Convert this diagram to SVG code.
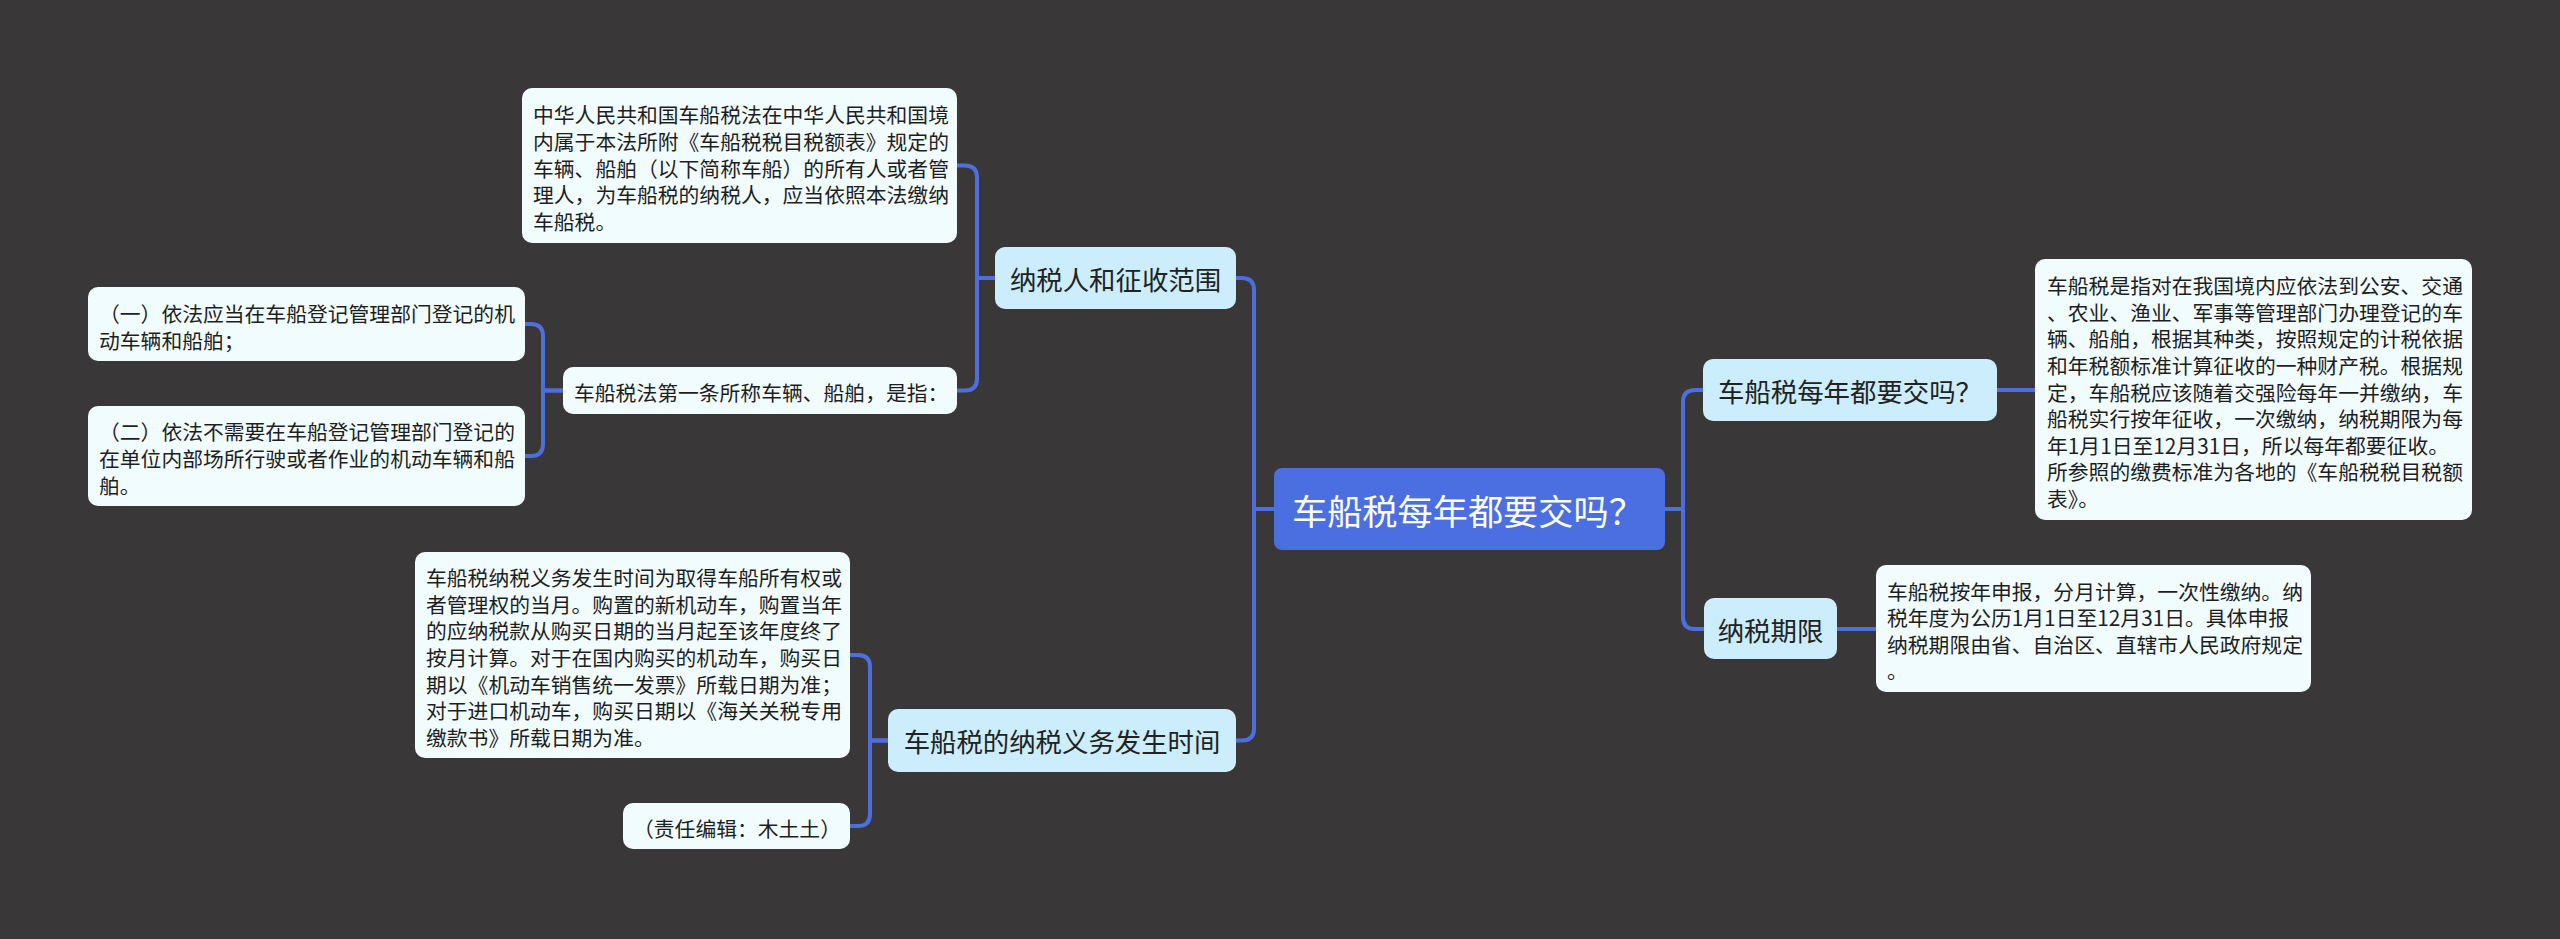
<svg xmlns="http://www.w3.org/2000/svg" width="2560" height="939" viewBox="0 0 2560 939">
<style>
.bg{fill:#393738}
.conn{fill:none;stroke:#4d6fdd;stroke-width:4;stroke-linecap:round;stroke-linejoin:round}
.root{fill:#4b6fe0}
.l1{fill:#ccedfb}
.leaf{fill:#f1fcfe}
text{font-family:"Noto Sans CJK SC","Noto Sans",sans-serif;dominant-baseline:central}
.tr{font-size:35.2px;fill:#ffffff}
.t1{font-size:26.4px;fill:#222222;text-anchor:middle}
.t2{font-size:20.8px;fill:#1e1e1e}
</style>
<rect class="bg" x="0" y="0" width="2560" height="939"/>
<g id="connectors">
<path class="conn" d="M1274,509 H1254 V290 Q1254,278 1242,278 H1236"/>
<path class="conn" d="M1274,509 H1254 V728.5 Q1254,740.5 1242,740.5 H1236"/>
<path class="conn" d="M1665,509 H1683 V402 Q1683,390 1695,390 H1703"/>
<path class="conn" d="M1665,509 H1683 V617 Q1683,629 1695,629 H1704"/>
<path class="conn" d="M1997,390 H2035"/>
<path class="conn" d="M1837,629 H1876"/>
<path class="conn" d="M995,278 H977 V177.5 Q977,165.5 965,165.5 H957"/>
<path class="conn" d="M995,278 H977 V378.5 Q977,390.5 965,390.5 H957"/>
<path class="conn" d="M563,390.5 H543 V336 Q543,324 531,324 H525"/>
<path class="conn" d="M563,390.5 H543 V444 Q543,456 531,456 H525"/>
<path class="conn" d="M888,740.5 H870 V667 Q870,655 858,655 H850"/>
<path class="conn" d="M888,740.5 H870 V814 Q870,826 858,826 H850"/>
</g>
<g id="root">
<rect class="root" x="1274" y="468" width="391" height="82" rx="8"/>
<text class="tr" x="1292" y="509">车船税每年都要交吗？</text>
</g>
<g id="n-scope">
<rect class="l1" x="995" y="247" width="241" height="62" rx="10"/>
<text class="t1" x="1115.5" y="278">纳税人和征收范围</text>
</g>
<g id="n-time">
<rect class="l1" x="888" y="709" width="348" height="63" rx="10"/>
<text class="t1" x="1062" y="740.5">车船税的纳税义务发生时间</text>
</g>
<g id="n-yearly">
<rect class="l1" x="1703" y="359" width="294" height="62" rx="10"/>
<text class="t1" x="1850" y="390">车船税每年都要交吗？</text>
</g>
<g id="n-period">
<rect class="l1" x="1704" y="598" width="133" height="61" rx="10"/>
<text class="t1" x="1770.5" y="629">纳税期限</text>
</g>
<g id="n-law">
<rect class="leaf" x="522" y="88" width="435" height="155" rx="10"/>
<text class="t2" x="533" y="114.3">中华人民共和国车船税法在中华人民共和国境</text>
<text class="t2" x="533" y="140.9">内属于本法所附《车船税税目税额表》规定的</text>
<text class="t2" x="533" y="167.5">车辆、船舶（以下简称车船）的所有人或者管</text>
<text class="t2" x="533" y="194.1">理人，为车船税的纳税人，应当依照本法缴纳</text>
<text class="t2" x="533" y="220.7">车船税。</text>
</g>
<g id="n-article">
<rect class="leaf" x="563" y="367" width="394" height="47" rx="10"/>
<text class="t2" x="574" y="392">车船税法第一条所称车辆、船舶，是指：</text>
</g>
<g id="n-item1">
<rect class="leaf" x="88" y="287" width="437" height="74" rx="10"/>
<text class="t2" x="99" y="313.3">（一）依法应当在车船登记管理部门登记的机</text>
<text class="t2" x="99" y="339.9">动车辆和船舶；</text>
</g>
<g id="n-item2">
<rect class="leaf" x="88" y="406" width="437" height="100" rx="10"/>
<text class="t2" x="99" y="431.4">（二）依法不需要在车船登记管理部门登记的</text>
<text class="t2" x="99" y="458">在单位内部场所行驶或者作业的机动车辆和船</text>
<text class="t2" x="99" y="484.6">舶。</text>
</g>
<g id="n-occur">
<rect class="leaf" x="415" y="552" width="435" height="206" rx="10"/>
<text class="t2" x="426" y="577.2">车船税纳税义务发生时间为取得车船所有权或</text>
<text class="t2" x="426" y="603.8">者管理权的当月。购置的新机动车，购置当年</text>
<text class="t2" x="426" y="630.4">的应纳税款从购买日期的当月起至该年度终了</text>
<text class="t2" x="426" y="657">按月计算。对于在国内购买的机动车，购买日</text>
<text class="t2" x="426" y="683.6">期以《机动车销售统一发票》所载日期为准；</text>
<text class="t2" x="426" y="710.2">对于进口机动车，购买日期以《海关关税专用</text>
<text class="t2" x="426" y="736.8">缴款书》所载日期为准。</text>
</g>
<g id="n-editor">
<rect class="leaf" x="623" y="803" width="227" height="46" rx="10"/>
<text class="t2" x="633" y="828">（责任编辑：木土土）</text>
</g>
<g id="n-define">
<rect class="leaf" x="2035" y="259" width="437" height="261" rx="10"/>
<text class="t2" x="2047" y="285.1">车船税是指对在我国境内应依法到公安、交通</text>
<text class="t2" x="2047" y="311.7">、农业、渔业、军事等管理部门办理登记的车</text>
<text class="t2" x="2047" y="338.3">辆、船舶，根据其种类，按照规定的计税依据</text>
<text class="t2" x="2047" y="364.9">和年税额标准计算征收的一种财产税。根据规</text>
<text class="t2" x="2047" y="391.5">定，车船税应该随着交强险每年一并缴纳，车</text>
<text class="t2" x="2047" y="418.1">船税实行按年征收，一次缴纳，纳税期限为每</text>
<text class="t2" x="2047" y="444.7">年1月1日至12月31日，所以每年都要征收。</text>
<text class="t2" x="2047" y="471.3">所参照的缴费标准为各地的《车船税税目税额</text>
<text class="t2" x="2047" y="497.9">表》。</text>
</g>
<g id="n-deadline">
<rect class="leaf" x="1876" y="565" width="435" height="127" rx="10"/>
<text class="t2" x="1887" y="590.6">车船税按年申报，分月计算，一次性缴纳。纳</text>
<text class="t2" x="1887" y="617.2">税年度为公历1月1日至12月31日。具体申报</text>
<text class="t2" x="1887" y="643.8">纳税期限由省、自治区、直辖市人民政府规定</text>
<text class="t2" x="1887" y="670.4">。</text>
</g>
</svg>
